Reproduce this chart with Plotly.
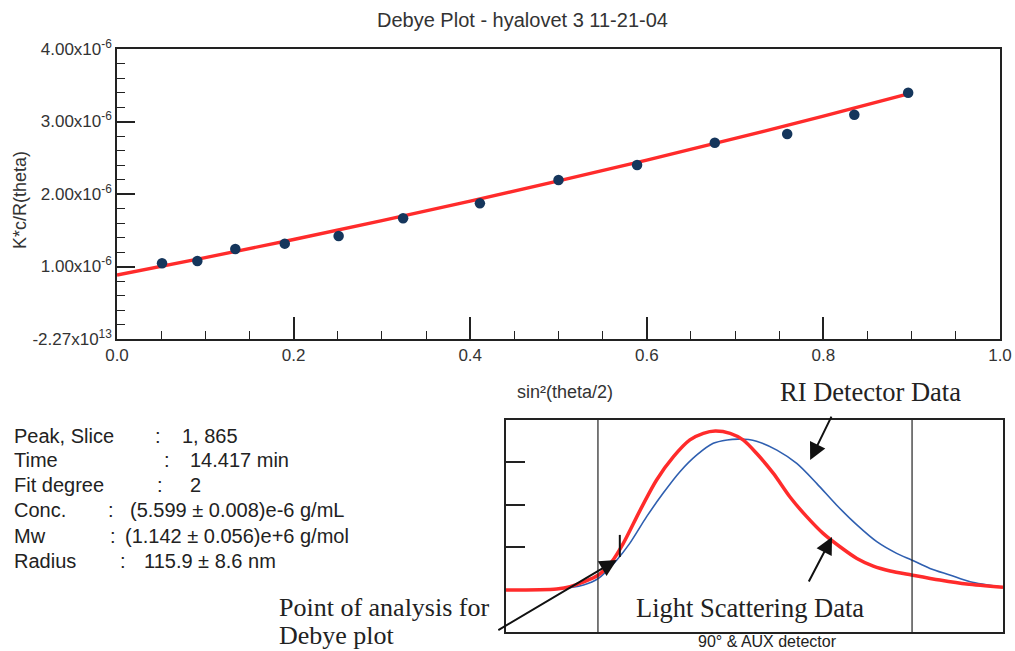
import plotly.graph_objects as go

# ---------------- data ----------------
# Debye plot measured points (x = sin^2(theta/2), y = K*c/R(theta) in units of 1e-6)
sin2_x = [0.051, 0.091, 0.134, 0.190, 0.251, 0.324, 0.411, 0.500, 0.589, 0.677, 0.759, 0.835, 0.896]
kcr_y = [1.044, 1.076, 1.241, 1.315, 1.421, 1.665, 1.871, 2.193, 2.400, 2.708, 2.828, 3.094, 3.397]

# fitted curve (degree 2)
fit_x = [0.0, 0.1, 0.2, 0.3, 0.4, 0.5, 0.6, 0.7, 0.8, 0.896]
fit_y = [0.883, 1.123, 1.372, 1.632, 1.901, 2.180, 2.468, 2.767, 3.075, 3.380]

y_tickvals = [0, 1, 2, 3, 4]
y_ticktext = ["-2.27x10<sup>13</sup>", "1.00x10<sup>-6</sup>", "2.00x10<sup>-6</sup>",
              "3.00x10<sup>-6</sup>", "4.00x10<sup>-6</sup>"]
x_tickvals = [0.0, 0.2, 0.4, 0.6, 0.8, 1.0]
x_ticktext = ["0.0", "0.2", "0.4", "0.6", "0.8", "1.0"]

# Inset chromatogram (arbitrary units)
ls_x = [0, 10.2, 12.9, 18.6, 21.3, 23.6, 27.0, 30.3, 33.7, 37.0, 39.7, 42.1, 45.1, 47.7, 50.4,
        53.8, 57.1, 60.5, 63.8, 67.2, 70.6, 73.9, 77.3, 81.6, 87.3, 92.7, 100]
ls_y = [0.198, 0.203, 0.214, 0.269, 0.332, 0.418, 0.575, 0.717, 0.827, 0.906, 0.937, 0.948, 0.937,
        0.906, 0.843, 0.748, 0.638, 0.544, 0.465, 0.402, 0.347, 0.311, 0.288, 0.269, 0.245, 0.226, 0.211]
ri_x = [0, 10.2, 15.6, 18.6, 22.3, 24.9, 28.3, 31.6, 35.0, 38.4, 41.7, 44.5, 46.7, 48.8, 50.4, 54.5, 58.5,
        62.5, 66.5, 70.6, 74.6, 78.6, 81.6, 85.3, 89.3, 93.4, 100]
ri_y = [0.198, 0.203, 0.222, 0.253, 0.340, 0.418, 0.544, 0.654, 0.756, 0.835, 0.890, 0.906, 0.910, 0.908, 0.900,
        0.858, 0.795, 0.701, 0.599, 0.505, 0.426, 0.371, 0.340, 0.300, 0.269, 0.237, 0.211]
slice_limits = [18.5, 81.7]
analysis_point = 22.9

info_labels = ["Peak, Slice", "Time", "Fit degree", "Conc.", "Mw", "Radius"]
info_values = ["1, 865", "14.417 min", "2", "(5.599 ± 0.008)e-6 g/mL",
               "(1.142 ± 0.056)e+6 g/mol", "115.9 ± 8.6 nm"]

# ---------------- layout helpers ----------------
W, H = 1015, 651
def px(x):
    return x / W
def py(y):
    return 1 - y / H

fig = go.Figure()

fig.add_trace(go.Scatter(x=fit_x, y=fit_y, mode="lines", line=dict(color="#ff2b2b", width=3.4, shape="spline"),
                         xaxis="x", yaxis="y", showlegend=False, hoverinfo="skip"))
fig.add_trace(go.Scatter(x=sin2_x, y=kcr_y, mode="markers",
                         marker=dict(color="#15365c", size=10.5, line=dict(width=0)),
                         xaxis="x", yaxis="y", showlegend=False))

fig.add_trace(go.Scatter(x=ri_x, y=ri_y, mode="lines", line=dict(color="#2f5fb0", width=1.6, shape="spline", smoothing=0.8),
                         xaxis="x2", yaxis="y2", showlegend=False))
fig.add_trace(go.Scatter(x=ls_x, y=ls_y, mode="lines", line=dict(color="#ff2b2b", width=3.5, shape="spline", smoothing=0.8),
                         xaxis="x2", yaxis="y2", showlegend=False))

axcol = "#222222"
tickfont = dict(family="Arial, Liberation Sans, sans-serif", size=17, color="#333333")

fig.update_layout(
    template="none",
    width=W, height=H,
    margin=dict(l=0, r=0, t=0, b=0, pad=0),
    paper_bgcolor="white", plot_bgcolor="white",
    showlegend=False,
    xaxis=dict(domain=[px(117), px(1000)], anchor="y", range=[0, 1], automargin=False,
               showgrid=False, zeroline=False, showline=True, linecolor=axcol, linewidth=1.5, mirror=True,
               ticks="inside", ticklen=22, tickwidth=1.5, tickcolor=axcol,
               tickvals=x_tickvals, ticktext=x_ticktext, tickfont=tickfont,
               minor=dict(dtick=0.05, ticks="inside", ticklen=8, tickwidth=1.3, tickcolor=axcol, showgrid=False)),
    yaxis=dict(domain=[py(339), py(49)], anchor="x", range=[0, 4], automargin=False,
               showgrid=False, zeroline=False, showline=True, linecolor=axcol, linewidth=1.5, mirror=True,
               ticks="inside", ticklen=18, tickwidth=1.5, tickcolor=axcol,
               tickvals=y_tickvals, ticktext=y_ticktext, tickfont=tickfont,
               minor=dict(dtick=0.2, ticks="inside", ticklen=8, tickwidth=1.3, tickcolor=axcol, showgrid=False)),
    xaxis2=dict(domain=[px(506), px(1003)], anchor="y2", range=[0, 100], automargin=False,
                showgrid=False, zeroline=False, showline=True, linecolor=axcol, linewidth=1.5, mirror=True,
                ticks="", showticklabels=False),
    yaxis2=dict(domain=[py(632), py(420)], anchor="x2", range=[0, 1], automargin=False,
                showgrid=False, zeroline=False, showline=True, linecolor=axcol, linewidth=1.5, mirror=True,
                ticks="inside", ticklen=19, tickwidth=1.5, tickcolor=axcol,
                tickvals=[0.4, 0.6, 0.8], showticklabels=False),
)

shapes = []
for v in slice_limits:
    shapes.append(dict(type="line", xref="x2", yref="y2 domain", x0=v, x1=v, y0=0, y1=1,
                       line=dict(color=axcol, width=1.2)))
shapes.append(dict(type="line", xref="x2", yref="y2", x0=analysis_point, x1=analysis_point,
                   y0=0.354, y1=0.458, line=dict(color="#111111", width=2)))
fig.update_layout(shapes=shapes)

ann = []
sans = "Arial, Liberation Sans, sans-serif"
serif = "Times New Roman, Liberation Serif, serif"
ann.append(dict(text="Debye Plot - hyalovet 3 11-21-04", x=px(522), y=py(20), xref="paper", yref="paper",
                showarrow=False, xanchor="center", yanchor="middle",
                font=dict(family=sans, size=20, color="#333333")))
ann.append(dict(text="K*c/R(theta)", x=px(20), y=py(200), xref="paper", yref="paper", textangle=-90,
                showarrow=False, xanchor="center", yanchor="middle",
                font=dict(family=sans, size=18, color="#333333")))
ann.append(dict(text="sin²(theta/2)", x=px(565), y=py(392), xref="paper", yref="paper",
                showarrow=False, xanchor="center", yanchor="middle",
                font=dict(family=sans, size=18, color="#333333")))
ann.append(dict(text="90° & AUX detector", x=px(767), y=py(641), xref="paper", yref="paper",
                showarrow=False, xanchor="center", yanchor="middle",
                font=dict(family=sans, size=16, color="#222222")))

row_y = [436, 460, 485, 510, 536, 561]
colon_x = [153, 162, 155, 106, 108, 118]
value_x = [180, 188, 188, 128, 123, 142]
for lab, val, ry, cx, vx in zip(info_labels, info_values, row_y, colon_x, value_x):
    for t, xx in ((lab, 12), (":", cx), (val, vx)):
        ann.append(dict(text=t, x=px(xx), y=py(ry), xref="paper", yref="paper", showarrow=False,
                        xanchor="left", yanchor="middle", font=dict(family=sans, size=20, color="#222222")))

ann.append(dict(text="RI Detector Data", x=px(870), y=py(392), xref="paper", yref="paper", showarrow=False,
                xanchor="center", yanchor="middle", font=dict(family=serif, size=26.5, color="#222222")))
ann.append(dict(text="Light Scattering Data", x=px(750), y=py(608), xref="paper", yref="paper", showarrow=False,
                xanchor="center", yanchor="middle", font=dict(family=serif, size=26.5, color="#222222")))
ann.append(dict(text="Point of analysis for", x=px(277), y=py(607), xref="paper", yref="paper", showarrow=False,
                xanchor="left", yanchor="middle", font=dict(family=serif, size=26, color="#222222")))
ann.append(dict(text="Debye plot", x=px(277), y=py(635), xref="paper", yref="paper", showarrow=False,
                xanchor="left", yanchor="middle", font=dict(family=serif, size=26, color="#222222")))

arrow_style = dict(showarrow=True, arrowhead=2, arrowsize=1.7, arrowwidth=2, arrowcolor="#111111",
                   standoff=0, text="", xref="x2", yref="y2")
ann.append(dict(x=61.2, y=0.811, ax=22, ay=-45, **arrow_style))
ann.append(dict(x=65.6, y=0.448, ax=-24, ay=46, **arrow_style))
ann.append(dict(x=22.3, y=0.340, ax=-120, ay=71, **arrow_style))

fig.update_layout(annotations=ann)

fig.write_html("out.html")
